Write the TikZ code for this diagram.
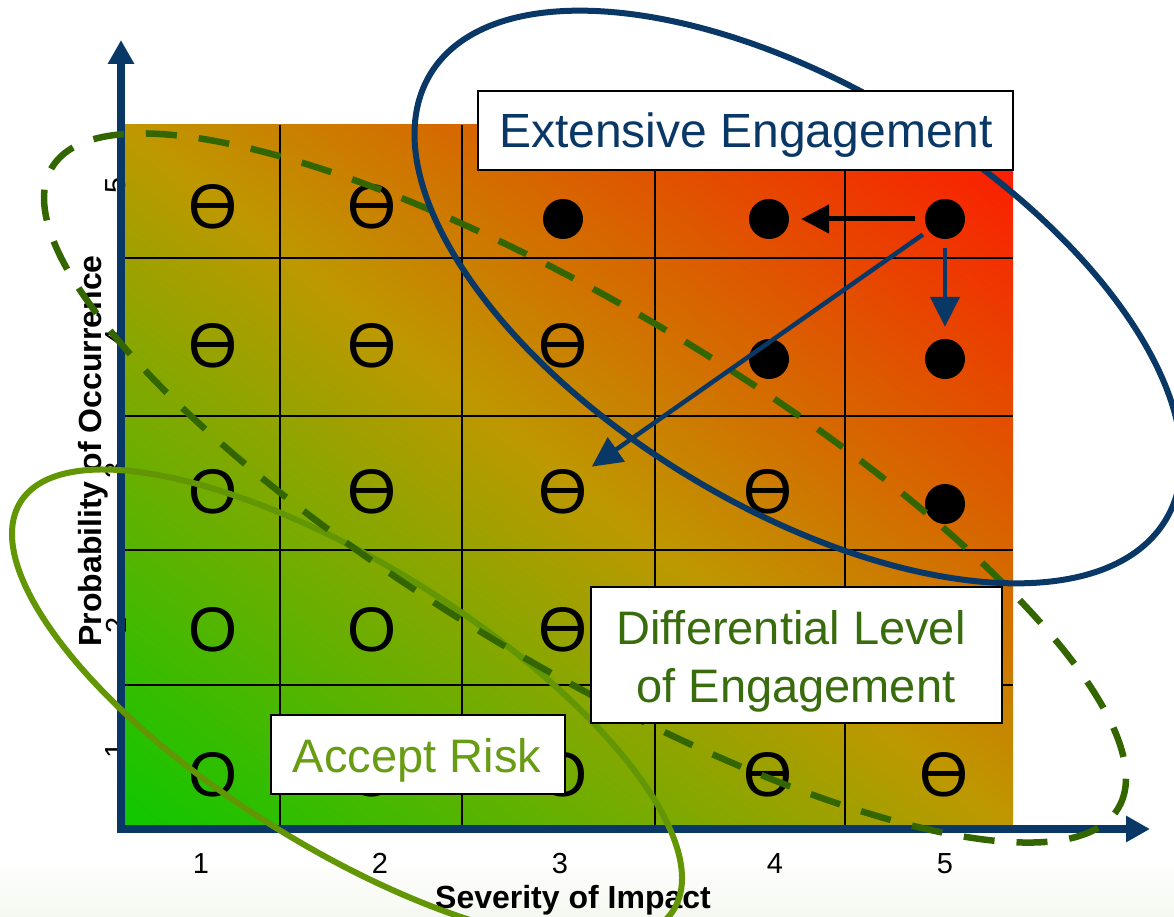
\documentclass[tikz,border=0pt]{standalone}
\usepackage{fontspec}
\setmainfont{Liberation Sans}
\usetikzlibrary{arrows.meta}

\definecolor{axisblue}{RGB}{9,56,103}
\definecolor{dashgreen}{RGB}{52,102,0}
\definecolor{diffgreen}{RGB}{56,108,12}
\definecolor{acceptgreen}{RGB}{104,156,18}
\definecolor{ringgreen}{RGB}{98,150,4}
\definecolor{lowrisk}{RGB}{12,200,0}
\definecolor{midrisk}{RGB}{190,152,0}
\definecolor{highrisk}{RGB}{255,22,0}
\definecolor{bandgray}{RGB}{245,248,240}

\begin{document}
\begin{tikzpicture}[x=1pt,y=-1pt,
  gridline/.style={black, line width=1.4pt},
  axisline/.style={axisblue, line width=8pt,
    {Triangle[length=24pt,width=25pt]}-{Triangle[length=24pt,width=25pt]}},
  ticklabel/.style={font=\fontsize{29}{29}\selectfont, inner sep=0pt},
  axislabel/.style={font=\fontsize{32}{32}\selectfont\bfseries, inner sep=0pt},
  sym/.style={font=\fontsize{63}{63}\selectfont, inner sep=0pt},
  dot/.style={circle, fill=black, minimum size=40pt, inner sep=0pt},
  bluering/.style={axisblue, line width=6pt},
  dashring/.style={dashgreen, line width=6.5pt, dash pattern=on 31pt off 22pt},
  acceptring/.style={ringgreen, line width=6pt},
  box/.style={draw=black, line width=1.6pt, fill=white, inner sep=0pt},
  boxtext/.style={font=\fontsize{47}{47}\selectfont, inner sep=0pt},
  blackarrow/.style={black, line width=5pt, -{Triangle[length=28pt,width=28pt]}},
  bluearrow/.style={axisblue, line width=4.5pt, -{Triangle[length=30pt,width=29pt]}}
]
\useasboundingbox (0,0) rectangle (1174,917);

% faint band behind the horizontal axis title
\shade[top color=white, bottom color=bandgray] (0,858) rectangle (1174,917);

% risk field: diagonal gradient from low/low (green) to high/high (red)
\begin{scope}
  \clip (121,125) rectangle (1013,829);
  \begin{scope}[transform canvas={rotate around={51.7:(567,477)}}]
    \shade[left color=lowrisk, right color=highrisk, middle color=midrisk]
      (14.4,-93) rectangle (1119.6,1047);
  \end{scope}
\end{scope}

% cell grid
\foreach \gx in {280,462,655,845}
  \draw[gridline] (\gx,125) -- (\gx,829);
\foreach \gy in {258,416,550,685}
  \draw[gridline] (117,\gy) -- (1013,\gy);

% tick labels
\node[ticklabel, rotate=90] (yl5) at (116,185) {5};
\node[ticklabel, rotate=90] (yl4) at (116,337) {4};
\node[ticklabel, rotate=90] (yl3) at (116,470) {3};
\node[ticklabel, rotate=90] (yl2) at (116,625) {2};
\node[ticklabel, rotate=90] (yl1) at (116,750) {1};
\node[ticklabel, anchor=base] (xl1) at (201,873) {1};
\node[ticklabel, anchor=base] (xl2) at (380,873) {2};
\node[ticklabel, anchor=base] (xl3) at (560,873) {3};
\node[ticklabel, anchor=base] (xl4) at (775,873) {4};
\node[ticklabel, anchor=base] (xl5) at (945,873) {5};

% axis titles
\node[axislabel, rotate=90, anchor=base] (ytitle) at (101,451) {Probability of Occurrence};
\node[axislabel, anchor=base] (xtitle) at (573,908) {Severity of Impact};

% axes
\coordinate (ytip) at (121,40);
\coordinate (origin) at (121,829);
\coordinate (xtip) at (1150,829);
\draw[axisline, line join=miter] (ytip) -- (origin) -- (xtip);

% cell markers (column, row)
\node[sym] (s15) at (213,207) {Ɵ};
\node[sym] (s25) at (372,207) {Ɵ};
\node[dot] (d35) at (563,219) {};
\node[dot] (d45) at (769,219) {};
\node[dot] (d55) at (945,219) {};

\node[sym] (s14) at (213,346) {Ɵ};
\node[sym] (s24) at (372,346) {Ɵ};
\node[sym] (s34) at (563,346) {Ɵ};
\node[dot] (d44) at (769,359) {};
\node[dot] (d54) at (945,359) {};

\node[sym] (s13) at (213,492) {O};
\node[sym] (s23) at (372,492) {Ɵ};
\node[sym] (s33) at (563,492) {Ɵ};
\node[sym] (s43) at (768,492) {Ɵ};
\node[dot] (d53) at (945,504) {};

\node[sym] (s12) at (213,630) {O};
\node[sym] (s22) at (372,630) {O};
\node[sym] (s32) at (563,630) {Ɵ};

\node[sym] (s11) at (213,775) {O};
\node[sym] (s21) at (372,775) {O};
\node[sym] (s31) at (563,775) {O};
\node[sym] (s41) at (768,775) {Ɵ};
\node[sym] (s51) at (944,775) {Ɵ};

% engagement zones
\draw[acceptring, rotate around={-32:(347,706)}]
  (347,706) ellipse [x radius=385pt, y radius=141pt];
\draw[dashring, rotate around={-31:(585,488)}]
  (585,488) ellipse [x radius=622pt, y radius=177pt];
\draw[bluering, rotate around={-31.25:(798,297)}]
  (798,297) ellipse [x radius=430pt, y radius=210pt];

% moves out of the highest-risk cell
\draw[blackarrow, shorten <=10pt, shorten >=12pt] (d55) -- (d45);
\draw[bluearrow, shorten <=9pt, shorten >=12pt] (d55) -- (d54);
\draw[bluearrow, shorten <=27pt, shorten >=5pt] (d55.center) -- (s33.north east);

% zone captions
\node[box, minimum width=535pt, minimum height=79pt] (extbox) at (745.5,130.5) {};
\node[boxtext, font=\fontsize{48}{48}\selectfont, text=axisblue, anchor=base] (exttext)
  at (746,147.5) {Extensive Engagement};
\node[box, minimum width=411pt, minimum height=136pt] (diffbox) at (796.5,655) {};
\node[boxtext, text=diffgreen, anchor=base] (difftop) at (791,644) {Differential Level};
\node[boxtext, text=diffgreen, anchor=base] (diffbot) at (796,702) {of Engagement};
\node[box, minimum width=294pt, minimum height=79pt] (accbox) at (418,754.5) {};
\node[boxtext, text=acceptgreen, anchor=base] (acctext) at (417,772) {Accept Risk};
\end{tikzpicture}
\end{document}
